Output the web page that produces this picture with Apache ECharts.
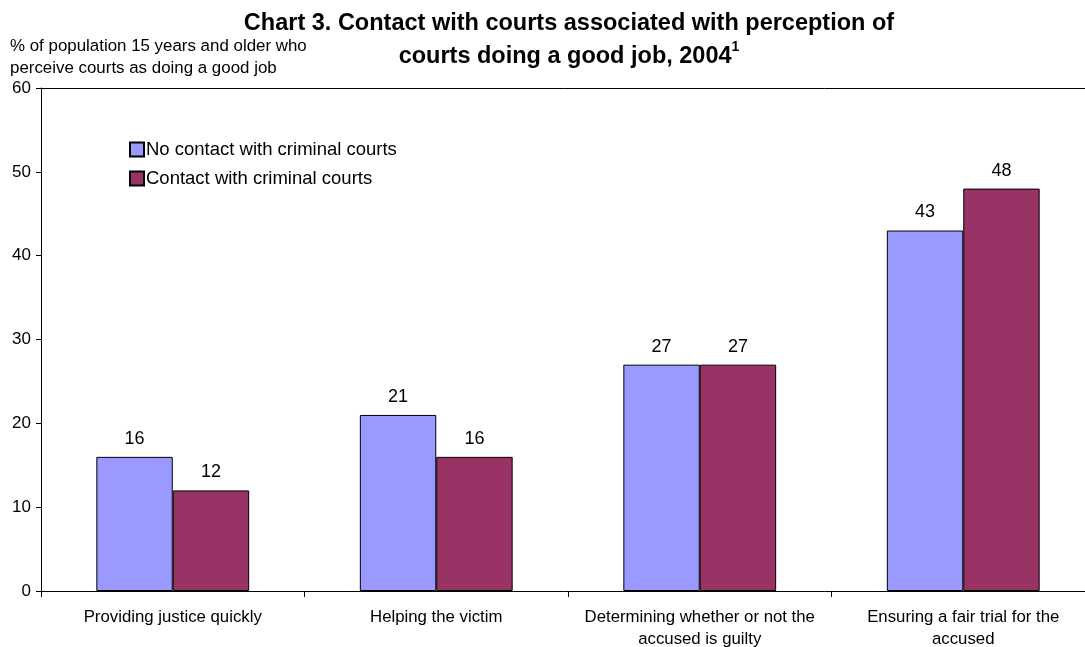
<!DOCTYPE html>
<html>
<head>
<meta charset="utf-8">
<script src="https://cdn.jsdelivr.net/npm/echarts@6/dist/echarts.min.js"></script>
<style>html,body{margin:0;padding:0;background:#fff}#c{width:1085px;height:647px}</style>
</head>
<body>
<div id="c"></div>
<script>
var categories = ['Providing justice quickly', 'Helping the victim', 'Determining whether or not the\naccused is guilty', 'Ensuring a fair trial for the\naccused'];
var noContact = [16, 21, 27, 43];
var contact = [12, 16, 27, 48];
var seriesNames = ['No contact with criminal courts', 'Contact with criminal courts'];
var yTicks = [0, 10, 20, 30, 40, 50, 60];

var chart = echarts.init(document.getElementById('c'));
var font = 'Liberation Sans, Arial, Helvetica, sans-serif';
chart.setOption({
  animation: false,
  textStyle: { fontFamily: font },
  title: {
    text: '{t|Chart 3. Contact with courts associated with perception of}\n{t|courts doing a good job, 2004}{s|1}',
    left: 564, top: 2, textAlign: 'center',
    textStyle: {
      rich: {
        t: { fontSize: 23.5, fontWeight: 'bold', color: '#000', fontFamily: font, lineHeight: 33 },
        s: { fontSize: 14, fontWeight: 'bold', color: '#000', fontFamily: font, verticalAlign: 'top', padding: [0, 0, 12, 0], lineHeight: 33 }
      }
    }
  },
  legend: {
    orient: 'vertical', left: 124, top: 135, itemGap: 10,
    itemWidth: 14, itemHeight: 14, icon: 'rect',
    textStyle: { fontSize: 18.5, color: '#000', fontFamily: font, padding: [0, 0, 0, -3] },
    data: seriesNames
  },
  grid: { left: 41, width: 1054, top: 88, bottom: 56, containLabel: false, outerBoundsMode: 'none' },
  xAxis: [{
    type: 'category', data: categories,
    axisLine: { lineStyle: { color: '#000', width: 1 } },
    axisTick: { show: true, alignWithLabel: false, length: 6, lineStyle: { color: '#000' } },
    axisLabel: { fontSize: 16.8, color: '#000', margin: 15, lineHeight: 22, fontFamily: font, interval: 0 }
  }, {
    type: 'category', data: categories, position: 'top',
    axisLine: { show: true, lineStyle: { color: '#000', width: 1 } },
    axisTick: { show: false }, axisLabel: { show: false }
  }],
  yAxis: {
    type: 'value', min: yTicks[0], max: yTicks[yTicks.length - 1], interval: 10,
    name: '% of population 15 years and older who\nperceive courts as doing a good job',
    nameLocation: 'end', nameGap: 1,
    nameTextStyle: { fontSize: 16.9, color: '#000', align: 'left', verticalAlign: 'bottom', padding: [0, 0, 0, -31], lineHeight: 22, fontFamily: font },
    axisLine: { show: true, lineStyle: { color: '#000', width: 1 } },
    axisTick: { show: true, length: 5, lineStyle: { color: '#000' } },
    axisLabel: { fontSize: 17, color: '#000', margin: 10, fontFamily: font },
    splitLine: { show: false }
  },
  series: [{
    name: seriesNames[0], type: 'bar', data: noContact,
    barWidth: '29%', barGap: '0%',
    itemStyle: { color: '#9999FF', borderColor: '#000', borderWidth: 1 },
    label: { show: true, position: 'top', distance: 9, fontSize: 18, color: '#000', fontFamily: font }
  }, {
    name: seriesNames[1], type: 'bar', data: contact,
    barWidth: '29%', barGap: '0%',
    itemStyle: { color: '#993366', borderColor: '#000', borderWidth: 1 },
    label: { show: true, position: 'top', distance: 9, fontSize: 18, color: '#000', fontFamily: font }
  }]
});
</script>
</body>
</html>
